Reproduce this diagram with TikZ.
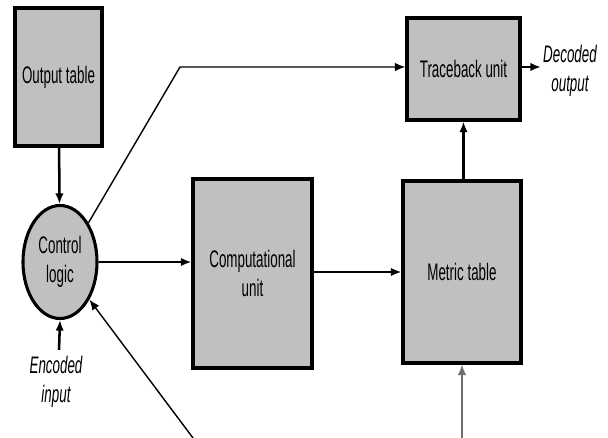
\documentclass[tikz,border=0pt]{standalone}
\usepackage{fontspec}
\setmainfont[FakeStretch=0.56]{Liberation Sans}
\usepackage{tikz}
\usetikzlibrary{arrows.meta}
\usetikzlibrary{positioning}
\usetikzlibrary{shapes.geometric}
\definecolor{boxgray}{RGB}{192,192,192}
\definecolor{wiregray}{RGB}{110,110,110}

\begin{document}
\begin{tikzpicture}[x=0.025cm, y=-0.025cm, >={Latex[length=7.5pt,width=6pt]}]
  \tikzset{every node/.style={font=\fontsize{17}{21}\selectfont, align=center},
    block/.style={draw, line width=2.2pt, fill=boxgray, inner sep=0pt},
    wire/.style={->, line width=1.8pt},
    thinwire/.style={->, line width=1pt}}

  \useasboundingbox (0,0) rectangle (608,438);

  \node[block, minimum width=2.175cm, minimum height=3.45cm] (outtab) at (58.5,77) {Output table};
  \node[block, ellipse, minimum width=1.85cm, minimum height=2.825cm] (ctrl) at (60,262) {Control\\logic};
  \node[block, minimum width=2.975cm, minimum height=4.725cm] (comp) at (252.5,273.5) {Computational\\unit};
  \node[block, minimum width=2.95cm, minimum height=4.55cm] (metric) at (462,272) {Metric table};
  \node[block, minimum width=2.825cm, minimum height=2.55cm] (trace) at (463.5,69) {Traceback unit};

  % inputs and outputs
  \coordinate (encin) at (59,350);
  \node[font=\fontsize{17}{21}\selectfont\itshape] (enctext) at (56,382) {Encoded\\input};
  \coordinate (decout) at (541,67);
  \node[font=\fontsize{17}{21}\selectfont\itshape] (dectext) at (570,71) {Decoded\\output};
  \coordinate (fbin) at (193,438);
  \coordinate (metin) at (462,438);
  \coordinate (bend) at (180,67);

  \draw[wire] (outtab) -- (ctrl);
  \draw[wire] (encin) -- (ctrl.south);
  \draw[wire] (ctrl.east) -- (ctrl.east -| comp.west);
  \draw[wire] (comp.east |- metric.west) -- (metric.west);
  \draw[wire] (metric.north -| trace.south) -- (trace.south);
  \draw[wire] (trace.east |- decout) -- (decout);
  \draw[thinwire] (ctrl.54) -- (bend) -- (bend -| trace.west);
  \draw[thinwire] (fbin) -- (ctrl.-52);
  \draw[thinwire, wiregray] (metin) -- (metric.south);
\end{tikzpicture}
\end{document}
